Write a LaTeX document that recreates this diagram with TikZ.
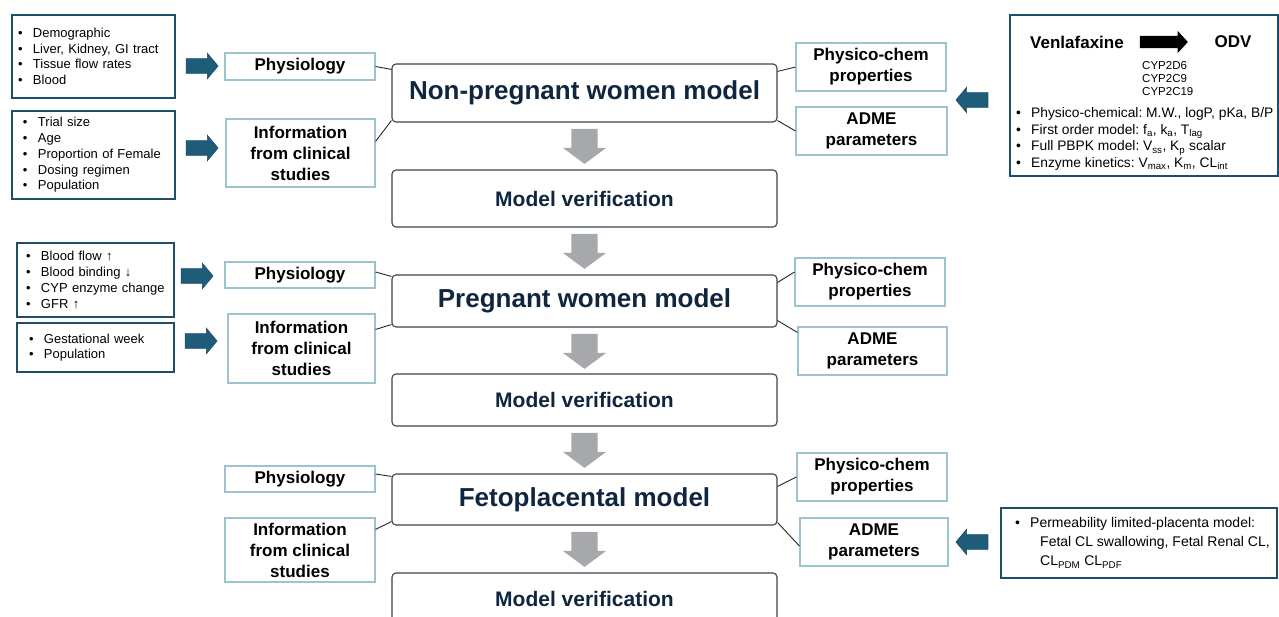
\documentclass[tikz,border=0pt]{standalone}
\usepackage{fontspec}
\setmainfont{Liberation Sans}
\usepackage{xcolor}
\usetikzlibrary{shapes.arrows}

\definecolor{navy}{HTML}{10263F}
\definecolor{tealbox}{HTML}{1D4F6A}
\definecolor{tealarrow}{HTML}{1F5C7A}
\definecolor{lightedge}{HTML}{9DC3D0}
\definecolor{modeledge}{HTML}{3A4452}
\definecolor{greyarrow}{HTML}{A6A8AB}

\newcommand{\li}[1]{\makebox[15pt][l]{\textbullet}#1}

\begin{document}
\frenchspacing
\begin{tikzpicture}[x=1pt, y=-1pt,
    listbox/.style={draw=tealbox, line width=2.6pt, inner ysep=0pt, align=left,
                    font=\fontsize{13}{15.7}\selectfont},
    infobox/.style={draw=lightedge, line width=1.1pt, minimum width=150pt, inner sep=0pt,
                    align=center, font=\fontsize{17}{21}\selectfont\bfseries},
    modelbox/.style={draw=modeledge, line width=1.1pt, rounded corners=4pt,
                     minimum width=385pt, text=navy},
    feedarrow/.style={single arrow, fill=tealarrow, draw=tealbox, line width=0.6pt,
                      inner xsep=0pt, inner ysep=7pt, minimum height=32pt, minimum width=25pt,
                      single arrow head extend=5.5pt, single arrow tip angle=100},
    steparrow/.style={single arrow, fill=greyarrow, inner xsep=13pt, inner ysep=0pt,
                      minimum height=35pt, minimum width=43pt, single arrow head extend=8.5pt,
                      single arrow tip angle=107, shape border rotate=270}]

    \path[use as bounding box, fill=white] (0,0) rectangle (1279,617);
    \clip (0,0) rectangle (1279,617);

    % input lists on the left
    \node[listbox, text width=151pt, inner xsep=6pt, minimum height=83pt] (demo) at (93.5,56.5)
        {\li{Demographic}\\ \li{Liver, Kidney, GI tract}\\ \li{Tissue flow rates}\\ \li{Blood}};
    \node[listbox, text width=141pt, inner xsep=11pt, minimum height=88pt] (trial) at (93.5,155)
        {\li{Trial size}\\ \li{Age}\\ \li{Proportion of Female}\\ \li{Dosing regimen}\\ \li{Population}};
    \node[listbox, text width=139pt, inner xsep=9pt, minimum height=74pt] (blood) at (95.5,280)
        {\li{Blood flow ↑}\\ \li{Blood binding ↓}\\ \li{CYP enzyme change}\\ \li{GFR ↑}};
    \node[listbox, text width=133pt, inner xsep=12pt, minimum height=49pt] (gest) at (95.5,347.5)
        {\li{Gestational week}\\ \li{Population}};

    \node[feedarrow] (fa1) at (199,66)  {};
    \node[feedarrow] (fa2) at (199,148) {};
    \node[feedarrow] (fa3) at (194,276) {};
    \node[feedarrow] (fa4) at (198,341) {};

    % inputs of each model
    \begin{scope}[every node/.style={infobox}]
        \node[minimum height=27pt] (phys1) at (300,66.5) {Physiology};
        \node[minimum height=68pt, minimum width=149pt] (info1) at (300.5,153) {Information\\from clinical\\studies};
        \node[minimum height=26pt] (phys2) at (300,275) {Physiology};
        \node[minimum height=69pt, minimum width=147pt] (info2) at (301.5,348.5) {Information\\from clinical\\studies};
        \node[minimum height=26pt] (phys3) at (300,479) {Physiology};
        \node[minimum height=64pt] (info3) at (300,550) {Information\\from clinical\\studies};

        \node[minimum height=48pt] (pc1) at (871,67) {Physico-chem\\properties};
        \node[minimum height=48pt, minimum width=151pt] (adme1) at (871.5,131) {ADME\\parameters};
        \node[minimum height=48pt] (pc2) at (870,282) {Physico-chem\\properties};
        \node[minimum height=48pt, minimum width=149pt] (adme2) at (872.5,351) {ADME\\parameters};
        \node[minimum height=48pt] (pc3) at (872,477) {Physico-chem\\properties};
        \node[minimum height=48pt, minimum width=148pt] (adme3) at (874,542) {ADME\\parameters};
    \end{scope}

    % model chain
    \node[modelbox, minimum height=58pt, font=\fontsize{26}{30}\selectfont\bfseries] (np) at (584.5,93) {Non-pregnant women model};
    \node[modelbox, minimum height=57pt, font=\fontsize{21}{25}\selectfont\bfseries] (mv1) at (584.5,198.5) {Model verification};
    \node[modelbox, minimum height=52pt, font=\fontsize{26}{30}\selectfont\bfseries] (pw) at (584.5,301) {Pregnant women model};
    \node[modelbox, minimum height=52pt, font=\fontsize{21}{25}\selectfont\bfseries] (mv2) at (584.5,400) {Model verification};
    \node[modelbox, minimum height=51pt, font=\fontsize{26}{30}\selectfont\bfseries] (fp) at (584.5,499.5) {Fetoplacental model};
    \node[modelbox, minimum height=52pt, font=\fontsize{21}{25}\selectfont\bfseries] (mv3) at (584.5,599) {Model verification};

    \node[steparrow] (g1) at (584.5,141.5) {};
    \node[steparrow] (g2) at (584.5,246.5) {};
    \node[steparrow] (g3) at (584.5,346.5) {};
    \node[steparrow] (g4) at (584.5,445.5) {};
    \node[steparrow] (g5) at (584.5,544.5) {};

    % drug box
    \node[draw=tealbox, line width=2.6pt, minimum width=268pt, minimum height=161pt] (drugbox) at (1144,95.5) {};
    \node[font=\fontsize{17}{20}\selectfont\bfseries] (ven) at (1077,42) {Venlafaxine};
    \node[single arrow, fill=black, inner xsep=0pt, inner ysep=6pt, minimum height=48pt, minimum width=22pt,
          single arrow head extend=5pt, single arrow tip angle=95] (met) at (1161,42) {};
    \node[font=\fontsize{17}{20}\selectfont\bfseries] (odv) at (1233,42) {ODV};
    \node[anchor=west, inner sep=0pt, align=left, font=\fontsize{11.5}{13}\selectfont] (cyp) at (1142,79)
        {CYP2D6\\CYP2C9\\CYP2C19};
    \node[anchor=west, inner sep=0pt, align=left, font=\fontsize{13.8}{16.7}\selectfont] (props) at (1016,139)
        {\li{Physico-chemical: M.W., logP, pKa, B/P}\\
         \li{First order model: f\textsubscript{a}, k\textsubscript{a}, T\textsubscript{lag}}\\
         \li{Full PBPK model: V\textsubscript{ss}, K\textsubscript{p} scalar}\\
         \li{Enzyme kinetics: V\textsubscript{max}, K\textsubscript{m}, CL\textsubscript{int}}};

    % placenta box
    \node[draw=tealbox, line width=2.6pt, minimum width=276pt, minimum height=70pt] (permbox) at (1139,543) {};
    \node[anchor=west, inner sep=0pt, align=left, font=\fontsize{14}{19}\selectfont] (perm) at (1015,543)
        {\li{Permeability limited-placenta model:}\\
         \hspace*{25pt}Fetal CL swallowing, Fetal Renal CL,\\
         \hspace*{25pt}CL\textsubscript{PDM} CL\textsubscript{PDF}};

    \node[feedarrow, shape border rotate=180] (fb1) at (975,100) {};
    \node[feedarrow, shape border rotate=180] (fb2) at (975,542) {};

    % connectors
    \begin{scope}[every edge/.style={draw=black!85, line width=0.9pt}]
        \path (phys1.east) edge ([yshift=-6pt]np.north west);
        \path ([yshift=-23pt]info1.north east) edge ([yshift=2pt]np.south west);
        \path (pc1.west) edge ([yshift=-8pt]np.north east);
        \path (adme1.west) edge ([yshift=2pt]np.south east);

        \path ([yshift=3pt]phys2.east) edge ([yshift=-2pt]pw.north west);
        \path ([yshift=-16pt]info2.north east) edge ([yshift=3pt]pw.south west);
        \path ([yshift=10pt]pc2.west) edge ([yshift=-8pt]pw.north east);
        \path ([yshift=-6pt]adme2.north west) edge ([yshift=7pt]pw.south east);

        \path ([yshift=5pt]phys3.east) edge ([yshift=-3pt]fp.north west);
        \path ([yshift=-12pt]info3.north east) edge ([yshift=4pt]fp.south west);
        \path (pc3.west) edge ([yshift=-13pt]fp.north east);
        \path ([yshift=-4pt]adme3.west) edge ([yshift=3pt]fp.south east);
    \end{scope}
\end{tikzpicture}
\end{document}
